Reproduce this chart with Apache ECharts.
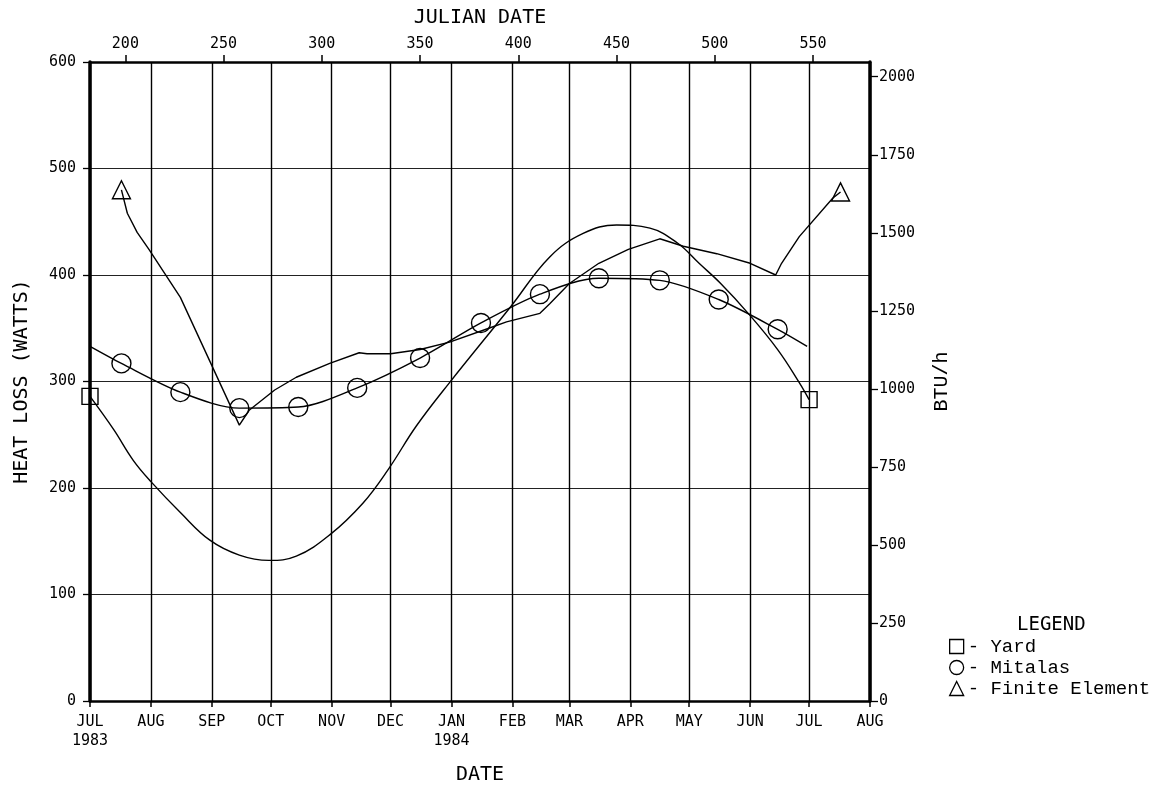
<!DOCTYPE html>
<html>
<head>
  <meta charset="utf-8" />
  <title>Heat loss</title>
  <style>
    html, body { margin: 0; padding: 0; background: #fff; }
    #main { width: 1162px; height: 787px; }
  </style>
</head>
<body>
  <div id="main"></div>
  <script src="https://cdn.jsdelivr.net/npm/echarts@6/dist/echarts.min.js"></script>
  <script>
    // x = Julian day counted from 1 Jan 1983 (1 Jul 1983 = 182)
    var monthStarts = [182, 213, 244, 274, 305, 335, 366, 397, 426, 457, 487, 518, 548, 579];
    var monthLabels = ['JUL\n1983', 'AUG', 'SEP', 'OCT', 'NOV', 'DEC', 'JAN\n1984', 'FEB', 'MAR', 'APR', 'MAY', 'JUN', 'JUL', 'AUG'];
    var julianTicks = [200, 250, 300, 350, 400, 450, 500, 550];
    var btuTicks = [0, 250, 500, 750, 1000, 1250, 1500, 1750, 2000];
    var WATT_TO_BTU = 3.412;

    // [julian day, watts]
    var yard = [[182, 286], [194, 255], [204, 226], [213, 206], [228, 177], [243, 151], [258, 137], [273, 132],
      [287, 136], [304, 156], [321, 186], [334, 218], [348, 258], [365, 299], [396, 370],
      [416, 417], [433, 439], [450, 447], [467, 444], [481, 430], [492, 411], [503, 392], [517, 364],
      [532, 330], [543, 299], [548, 283]];
    var mitalas = [[182, 333], [198, 317], [228, 290], [258, 275], [288, 276], [318, 294], [350, 322],
      [381, 355], [411, 382], [441, 397], [472, 395], [502, 377], [532, 349], [547, 333]];
    var finiteElement = [[198, 480], [201, 458], [206, 440], [212, 424], [228, 379], [258, 259], [263, 273],
      [276, 292], [287, 304], [304, 317], [319, 327], [323, 326], [335, 326], [350, 330], [365, 337],
      [385, 350], [394, 356], [411, 364], [416, 373], [426, 392], [441, 411], [456, 424], [472, 434],
      [484, 427], [501, 420], [518, 411], [531, 400], [534, 411], [543, 436], [560, 472], [564, 478]];

    var plotFont = "'DejaVu Sans Mono', monospace";
    var typeFont = "'Liberation Mono', 'Courier New', monospace";

    // markers only where the original plot drew them
    function marked(points, shape, which) {
      return points.map(function (p, i) {
        var isEnd = i === 0 || i === points.length - 1;
        var show = which === 'ends' ? isEnd : !isEnd;
        return { value: p, symbol: show ? shape : 'none' };
      });
    }

    function lineSeries(name, data, shape, size, smooth) {
      return {
        name: name,
        type: 'line',
        xAxisIndex: 0,
        yAxisIndex: 0,
        data: data,
        smooth: smooth,
        symbol: shape,
        symbolSize: size,
        showSymbol: true,
        clip: false,
        animation: false,
        lineStyle: { color: '#000', width: 1.4 },
        itemStyle: { color: 'rgba(0,0,0,0)', borderColor: '#000', borderWidth: 1.4 }
      };
    }

    var chart = echarts.init(document.getElementById('main'));
    chart.setOption({
      backgroundColor: '#fff',
      animation: false,
      title: {
        text: 'LEGEND',
        left: 1012,
        top: 611,
        textStyle: { fontFamily: plotFont, fontSize: 19, fontWeight: 'normal', color: '#000' }
      },
      legend: {
        orient: 'vertical',
        left: 944,
        top: 632,
        itemWidth: 14,
        itemHeight: 14,
        itemGap: 2,
        selectedMode: false,
        data: [
          { name: 'Yard', icon: 'rect' },
          { name: 'Mitalas', icon: 'circle' },
          { name: 'Finite Element', icon: 'triangle' }
        ],
        itemStyle: { color: 'rgba(0,0,0,0)', borderColor: '#000', borderWidth: 1.3 },
        formatter: function (name) { return '- ' + name; },
        textStyle: { fontFamily: typeFont, fontSize: 19, lineHeight: 15, color: '#000', padding: [0, 0, 0, -1] }
      },
      grid: { left: 90, right: 292, top: 62, bottom: 86, outerBoundsMode: 'none', containLabel: false },
      xAxis: [
        {
          type: 'value',
          position: 'bottom',
          min: 182,
          max: 579,
          name: 'DATE',
          nameLocation: 'middle',
          nameGap: 64,
          nameTextStyle: { fontFamily: plotFont, fontSize: 20, color: '#000' },
          axisLine: { show: true, onZero: false, lineStyle: { color: '#000', width: 2.5 } },
          axisTick: { show: true, customValues: monthStarts, length: 6, lineStyle: { color: '#000', width: 1.5 } },
          axisLabel: {
            customValues: monthStarts,
            margin: 12,
            fontFamily: plotFont,
            fontSize: 15,
            lineHeight: 19,
            color: '#000',
            formatter: function (v) { return monthLabels[monthStarts.indexOf(v)]; }
          },
          splitLine: { show: true, lineStyle: { color: '#000', width: 1.4 } }
        },
        {
          type: 'value',
          position: 'top',
          min: 182,
          max: 579,
          name: 'JULIAN DATE',
          nameLocation: 'middle',
          nameGap: 34,
          nameTextStyle: { fontFamily: plotFont, fontSize: 20, color: '#000' },
          axisLine: { show: true, onZero: false, lineStyle: { color: '#000', width: 2.5 } },
          axisTick: { show: true, customValues: julianTicks, length: 7, lineStyle: { color: '#000', width: 1.5 } },
          axisLabel: { customValues: julianTicks, margin: 10, fontFamily: plotFont, fontSize: 15, color: '#000' },
          splitLine: { show: false }
        }
      ],
      yAxis: [
        {
          type: 'value',
          position: 'left',
          min: 0,
          max: 600,
          interval: 100,
          name: 'HEAT LOSS (WATTS)',
          nameLocation: 'middle',
          nameGap: 58,
          nameTextStyle: { fontFamily: plotFont, fontSize: 20, color: '#000' },
          axisLine: { show: true, onZero: false, lineStyle: { color: '#000', width: 3.5 } },
          axisTick: { show: true, length: 7, lineStyle: { color: '#000', width: 1.3 } },
          axisLabel: { margin: 14, fontFamily: plotFont, fontSize: 15, color: '#000' },
          splitLine: { show: true, lineStyle: { color: '#222', width: 1 } }
        },
        {
          type: 'value',
          position: 'right',
          min: 0,
          max: 600 * WATT_TO_BTU,
          name: 'BTU/h',
          nameLocation: 'middle',
          nameGap: 62,
          nameRotate: 90,
          nameTextStyle: { fontFamily: typeFont, fontSize: 20, color: '#000' },
          axisLine: { show: true, onZero: false, lineStyle: { color: '#000', width: 3.5 } },
          axisTick: { show: true, customValues: btuTicks, length: 8, lineStyle: { color: '#000', width: 1.3 } },
          axisLabel: {
            customValues: btuTicks,
            margin: 9,
            fontFamily: plotFont,
            fontSize: 15,
            color: '#000',
            formatter: function (v) { return String(v); }
          },
          splitLine: { show: false }
        }
      ],
      series: [
        lineSeries('Yard', marked(yard, 'rect', 'ends'), 'rect', 16, 0.4),
        lineSeries('Mitalas', marked(mitalas, 'circle', 'inner'), 'circle', 19, 0.3),
        lineSeries('Finite Element', marked(finiteElement, 'triangle', 'ends'), 'triangle', 18, false)
      ]
    });
  </script>
</body>
</html>
